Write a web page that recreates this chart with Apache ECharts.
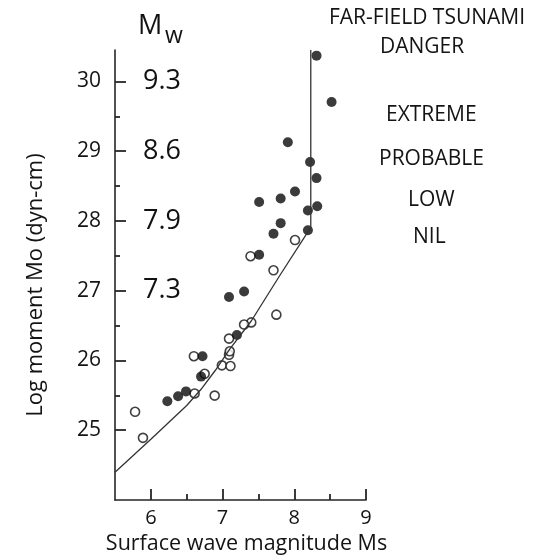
<!DOCTYPE html>
<html><head><meta charset="utf-8">
<script src="https://cdn.jsdelivr.net/npm/echarts@6/dist/echarts.min.js"></script>
<style>html,body{margin:0;padding:0;background:#fff}#c{width:538px;height:560px}</style>
</head><body><div id="c"></div>
<script>
// Filled circles [Ms, log Mo]
const filledMs = [8.31,8.52,7.91,8.22,8.31,8.01,7.81,7.51,8.19,8.32,7.81,7.71,8.19,7.51,7.09,7.30,7.20,6.72,6.70,6.49,6.38,6.23];
const filledMo = [30.37,29.71,29.14,28.86,28.63,28.44,28.34,28.29,28.17,28.23,27.99,27.84,27.89,27.54,26.94,27.02,26.40,26.10,25.81,25.60,25.53,25.46];
// Open circles
const openMs = [8.01,7.39,7.71,7.75,7.40,7.30,7.09,7.09,7.10,6.60,6.99,7.11,6.75,6.61,6.89,5.78,5.89];
const openMo = [27.75,27.52,27.32,26.69,26.58,26.55,26.35,26.12,26.17,26.10,25.97,25.96,25.85,25.57,25.54,25.31,24.94];
// Relation curve
const curveMs = [5.5,6.0,6.5,6.7,6.9,7.1,7.4,7.8,8.23,8.23];
const curveMo = [24.45,24.92,25.40,25.63,25.90,26.20,26.60,27.25,27.93,30.45];
// Axis ticks
const xMajor = [6,7,8,9];
const xMinor = [6.5,7.5,8.5];
const yMajor = [25,26,27,28,29,30];
const yMinor = [25.5,26.5,27.5,28.5,29.5];
// Mw scale
const mwAt = [30,29,28,27];
const mwLabels = ['9.3','8.6','7.9','7.3'];
// Danger labels
const dangerTitle = ['FAR-FIELD TSUNAMI','DANGER'];
const dangerLabels = ['EXTREME','PROBABLE','LOW','NIL'];

const FONT = 'Open Sans';
const txt = '#141414';
const axisCol = '#262626';
const zip = (a,b)=>a.map((v,i)=>[v,b[i]]);

const chart = echarts.init(document.getElementById('c'));

const tStyle = {fontFamily:FONT, fontSize:21, fontWeight:'normal', color:txt, lineHeight:24};
const titles = [
  {text:dangerTitle[0], left:329, top:6, padding:0, textStyle:tStyle},
  {text:dangerTitle[1], left:380, top:35, padding:0, textStyle:tStyle},
  {text:'M', left:138, top:11, padding:0, textStyle:{fontFamily:FONT, fontSize:27, fontWeight:'normal', color:'#111', lineHeight:30}},
  {text:'w', left:165, top:24, padding:0, textStyle:{fontFamily:FONT, fontSize:23, fontWeight:'normal', color:'#111', lineHeight:24}}
];
const dangerLeft = [386,379,408,413];
const dangerTop = [103,147,188,225];
dangerLabels.forEach((t,i)=>titles.push({text:t, left:dangerLeft[i], top:dangerTop[i], padding:0, textStyle:tStyle}));

const G = {left:115, right:172, top:50, bottom:56};

chart.setOption({
  animation:false,
  title:titles,
  grid:[Object.assign({}, G), Object.assign({}, G)],
  xAxis:[
    // data axis (hidden) for series
    {type:'value', gridIndex:0, min:5.5, max:9, show:false},
    // visible axes
    {type:'value', gridIndex:1, min:5.5, max:9, position:'bottom',
     name:'Surface wave magnitude Ms', nameLocation:'middle', nameGap:33,
     nameTextStyle:{fontFamily:FONT, fontSize:21.5, color:txt, padding:[0,0,0,12]},
     axisLine:{show:true, lineStyle:{color:axisCol, width:1.6}},
     axisTick:{show:true, inside:true, length:11, customValues:xMajor, lineStyle:{color:axisCol, width:1.8}},
     axisLabel:{customValues:xMajor, margin:8, fontFamily:FONT, fontSize:20, color:txt},
     splitLine:{show:false}},
    {type:'value', gridIndex:1, min:5.5, max:9, position:'bottom',
     axisLine:{show:false},
     axisTick:{show:true, inside:true, length:6, customValues:xMinor, lineStyle:{color:axisCol, width:1.8}},
     axisLabel:{show:false}, splitLine:{show:false}}
  ],
  yAxis:[
    {type:'value', gridIndex:0, min:24, max:30.45, show:false},
    {type:'value', gridIndex:1, min:24, max:30.45, position:'left',
     name:'Log moment Mo (dyn-cm)', nameLocation:'middle', nameGap:68, nameRotate:90,
     nameTextStyle:{fontFamily:FONT, fontSize:22, color:txt, padding:[0,20,0,0]},
     axisLine:{show:true, lineStyle:{color:axisCol, width:1.6}},
     axisTick:{show:true, inside:true, length:11, customValues:yMajor, lineStyle:{color:axisCol, width:1.8}},
     axisLabel:{customValues:yMajor, margin:14, fontFamily:FONT, fontSize:21, color:txt},
     splitLine:{show:false}},
    {type:'value', gridIndex:1, min:24, max:30.45, position:'left',
     axisLine:{show:false},
     axisTick:{show:true, inside:true, length:5, customValues:yMinor, lineStyle:{color:axisCol, width:1.8}},
     axisLabel:{show:false}, splitLine:{show:false}},
    {type:'value', gridIndex:1, min:24, max:30.45, position:'left',
     axisLine:{show:false}, axisTick:{show:false}, splitLine:{show:false},
     axisLabel:{inside:true, margin:28, customValues:mwAt, fontFamily:FONT, fontSize:27, color:'#111',
       formatter:(v)=>{const i=mwAt.indexOf(Math.round(v*100)/100); return i>=0?mwLabels[i]:'';}}}
  ],
  series:[
    {type:'line', data:zip(curveMs,curveMo), xAxisIndex:0, yAxisIndex:0, showSymbol:false, symbol:'none',
     lineStyle:{color:'#333', width:1.3}},
    {type:'scatter', data:zip(openMs,openMo), xAxisIndex:0, yAxisIndex:0, symbol:'circle', symbolSize:9,
     itemStyle:{color:'#fff', borderColor:'#111', borderWidth:1.6}},
    {type:'scatter', data:zip(filledMs,filledMo), xAxisIndex:0, yAxisIndex:0, symbol:'circle', symbolSize:10,
     itemStyle:{color:'#0a0a0a', borderColor:'#0a0a0a', borderWidth:0}}
  ]
});
</script></body></html>
